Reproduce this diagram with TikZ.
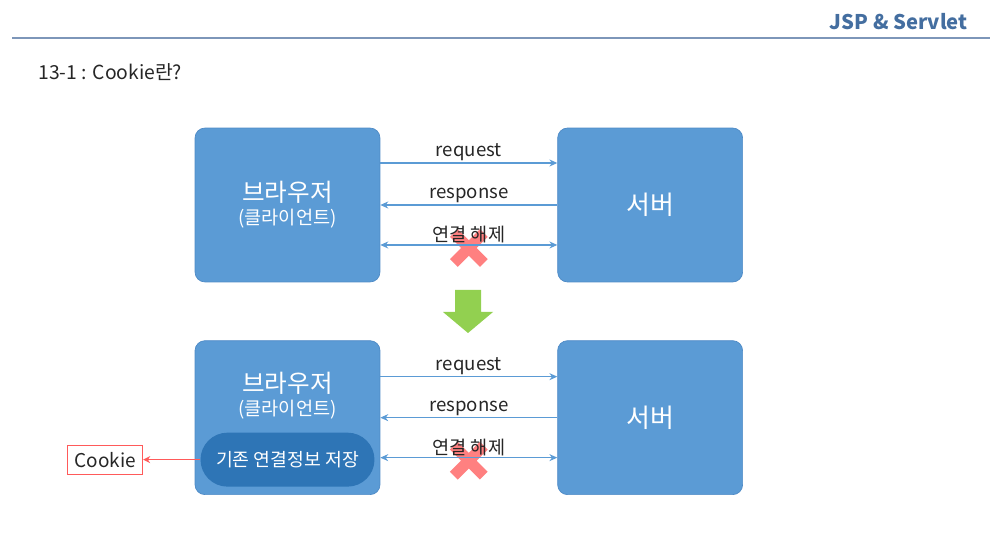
\documentclass[tikz,border=0pt]{standalone}
\usepackage{fontspec}
\setmainfont{Noto Sans CJK KR}
\usetikzlibrary{positioning,arrows.meta}
\definecolor{boxblue}{RGB}{91,155,213}
\definecolor{boxedge}{RGB}{78,138,198}
\definecolor{pillblue}{RGB}{46,117,182}
\definecolor{titleblue}{RGB}{68,110,160}
\definecolor{ruleblue}{RGB}{125,150,185}
\definecolor{textgray}{RGB}{38,38,38}
\definecolor{crossred}{RGB}{255,128,128}
\definecolor{arrowgreen}{RGB}{146,208,80}
\definecolor{cookiered}{RGB}{255,90,90}
\newcommand{\bigsize}{\fontsize{14}{16}\selectfont}
\newcommand{\subsize}{\fontsize{10.6}{12}\selectfont}

\begin{document}
\begin{tikzpicture}[x=0.02cm, y=-0.02cm,
        node distance=1.16cm and 3.54cm,
        hostbox/.style={rectangle, rounded corners=0.2cm, draw=boxedge, fill=boxblue,
                        minimum width=3.7cm, minimum height=3.08cm, text=white, align=center},
        bigtext/.style={font=\fontsize{14.8}{17}\selectfont},
        pill/.style={rectangle, rounded corners=0.54cm, fill=pillblue, text=white,
                     minimum width=3.48cm, minimum height=1.08cm, font=\fontsize{10.4}{12}\selectfont},
        cookiebox/.style={rectangle, draw=cookiered, text=textgray, minimum width=1.5cm,
                          minimum height=0.58cm, inner sep=1pt, font=\fontsize{10.8}{12}\selectfont},
        msg/.style={boxblue, line width=0.6pt, >={Stealth[length=4.5pt,width=4pt]}},
        lbl/.style={midway, above=-2.5pt, text=textgray, font=\subsize},
        cross/.style={crossred, line width=0.22cm},
        arrow/.style={->, >={Stealth[length=4pt,width=4pt]}, cookiered, line width=0.6pt}
    ]
        \useasboundingbox (0,0) rectangle (990,546);

        % 제목
        \node[anchor=east, inner sep=0pt, text=titleblue, font=\fontsize{11.5}{13}\selectfont\bfseries] (title) at (968,22) {JSP \& Servlet};
        \draw[ruleblue, line width=1.1pt] (12,38) -- (990,38);
        \node[anchor=west, inner sep=0pt, text=textgray, font=\fontsize{11}{13}\selectfont] (heading) at (38,72) {13-1 : Cookie란?};

        % 위쪽: 연결 해제
        \node[hostbox] (browser1) at (287.5,205) {{\bigsize 브라우저}\\[1pt]{\subsize (클라이언트)}};
        \node[hostbox, bigtext, right=of browser1] (server1) {서버};

        \draw[msg, ->] ([yshift=0.84cm]browser1.east) -- node[lbl] {request} ([yshift=0.84cm]server1.west);
        \draw[msg, <-] (browser1.east) -- node[lbl] {response} (server1.west);
        \path ([yshift=-0.8cm]browser1.east) -- coordinate (cut1) ([yshift=-0.8cm]server1.west);
        \draw[cross] (cut1) ++(0,3) +(-15,-15) -- +(15,15) +(-15,15) -- +(15,-15);
        \draw[msg, <->] ([yshift=-0.8cm]browser1.east) -- node[lbl] {연결 해제} ([yshift=-0.8cm]server1.west);

        % 화살표
        \fill[arrowgreen] (455,290) -- (481,290) -- (481,312) -- (493,312) -- (468,333)
            -- (443,312) -- (455,312) -- cycle;

        % 아래쪽: 연결정보 저장
        \node[hostbox, below=of browser1] (browser2) {};
        \node[hostbox, bigtext, right=of browser2] (server2) {서버};
        \node[text=white, align=center, below=0.52cm of browser2.north, anchor=north]
            (client2) {{\bigsize 브라우저}\\[1pt]{\subsize (클라이언트)}};
        \node[pill] (store) at ([yshift=-0.84cm]browser2.center) {기존 연결정보 저장};
        \node[cookiebox, left=1.14cm of store] (cookie) {Cookie};

        \draw[msg, ->] ([yshift=0.82cm]browser2.east) -- node[lbl] {request} ([yshift=0.82cm]server2.west);
        \draw[msg, <-] (browser2.east) -- node[lbl] {response} (server2.west);
        \path ([yshift=-0.8cm]browser2.east) -- coordinate (cut2) ([yshift=-0.8cm]server2.west);
        \draw[cross] (cut2) ++(0,3) +(-15,-15) -- +(15,15) +(-15,15) -- +(15,-15);
        \draw[msg, <->] ([yshift=-0.8cm]browser2.east) -- node[lbl] {연결 해제} ([yshift=-0.8cm]server2.west);

        \draw[arrow] (store) -- (cookie);
    \end{tikzpicture}
\end{document}
